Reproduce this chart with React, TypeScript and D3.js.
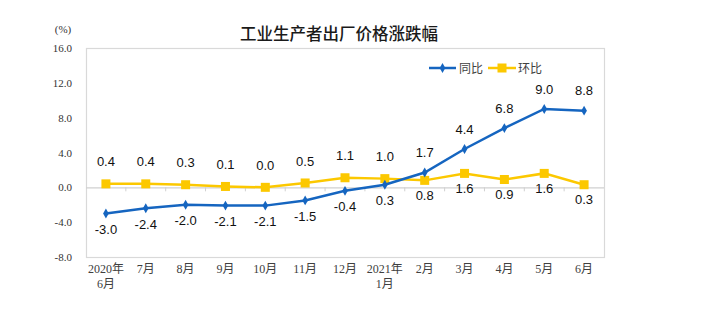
import React from "react";
import * as d3 from "d3";

const categories: string[][] = [
  ["2020年", "6月"], ["7月"], ["8月"], ["9月"], ["10月"], ["11月"], ["12月"],
  ["2021年", "1月"], ["2月"], ["3月"], ["4月"], ["5月"], ["6月"],
];
const yoy = [-3.0, -2.4, -2.0, -2.1, -2.1, -1.5, -0.4, 0.3, 1.7, 4.4, 6.8, 9.0, 8.8];
const mom = [0.4, 0.4, 0.3, 0.1, 0.0, 0.5, 1.1, 1.0, 0.8, 1.6, 0.9, 1.6, 0.3];
const yTicks = [-8, -4, 0, 4, 8, 12, 16];
const title = "工业生产者出厂价格涨跌幅";
const seriesNames = ["同比", "环比"];

const W = 706, H = 326;
const left = 86, right = 604, top = 48, bottom = 257;
const BLUE = "#1565c0";
const YELLOW = "#fcc800";
const SERIF = "'Liberation Serif', 'Times New Roman', 'Noto Sans CJK SC', serif";
const SANS = "'Liberation Sans', Arial, sans-serif";
const CJK = "'Noto Sans CJK SC', sans-serif";

export default function App() {
  const idx = categories.map((_, i) => String(i));
  const x = d3.scaleBand<string>().domain(idx).range([left, right]);
  const y = d3.scaleLinear().domain([-8, 16]).range([bottom, top]);
  const cx = (i: number) => (x(String(i)) as number) + x.bandwidth() / 2;
  const line = d3.line<number>().x((_, i) => cx(i)).y((d) => y(d));
  const diamond = d3.symbol().type(d3.symbolDiamond).size(28)() as string;

  return (
    <div style={{ margin: -8 }}>
      <svg width={W} height={H} style={{ display: "block", background: "#fff" }}>
        <rect x={0} y={0} width={W} height={H} fill="#fff" />
        <text x={339} y={40} textAnchor="middle" fontFamily={CJK} fontSize={16.5} fontWeight={500} fill="#1a1a1a">
          {title}
        </text>
        <text x={63} y={33} textAnchor="middle" fontFamily={SERIF} fontSize={11} fill="#333">(%)</text>
        <rect x={left + 0.5} y={top + 0.5} width={right - left} height={bottom - top} fill="none" stroke="#d9d9d9" strokeWidth={1.2} />
        {yTicks.map((t) => (
          <g key={t}>
            <text x={72} y={y(t) + 4} textAnchor="end" fontFamily={SERIF} fontSize={11} fill="#333">
              {t.toFixed(1)}
            </text>
          </g>
        ))}
        <line x1={left} x2={right} y1={y(0) + 0.5} y2={y(0) + 0.5} stroke="#d0d0d0" strokeWidth={1.2} />
        {idx.slice(1).map((d) => (
          <line key={d} x1={x(d)} x2={x(d)} y1={y(0)} y2={y(0) + 4} stroke="#d0d0d0" strokeWidth={1} />
        ))}
        {categories.map((c, i) =>
          c.map((s, j) => (
            <text key={i + "-" + j} x={cx(i)} y={273 + j * 15} textAnchor="middle" fontFamily={SERIF} fontSize={12} fill="#404040">
              {s}
            </text>
          ))
        )}
        <path d={line(mom) as string} fill="none" stroke={YELLOW} strokeWidth={2.5} />
        {mom.map((v, i) => (
          <rect key={i} x={cx(i) - 4.5} y={y(v) - 4.5} width={9} height={9} fill={YELLOW} />
        ))}
        <path d={line(yoy) as string} fill="none" stroke={BLUE} strokeWidth={2.5} />
        {yoy.map((v, i) => (
          <path key={i} d={diamond} transform={`translate(${cx(i)},${y(v)})`} fill={BLUE} />
        ))}
        {yoy.map((v, i) => {
          const above = i > 7;
          return (
            <text key={i} x={cx(i)} y={y(v) + (above ? -20 : 16)} dy="0.35em" textAnchor="middle" fontFamily={SANS} fontSize={13} fill="#111">
              {v.toFixed(1)}
            </text>
          );
        })}
        {mom.map((v, i) => {
          const above = i <= 7;
          return (
            <text key={i} x={cx(i)} y={y(v) + (above ? -22 : 15)} dy="0.35em" textAnchor="middle" fontFamily={SANS} fontSize={13} fill="#111">
              {v.toFixed(1)}
            </text>
          );
        })}
        <g>
          <line x1={429} x2={456} y1={68} y2={68} stroke={BLUE} strokeWidth={2.5} />
          <path d={diamond} transform="translate(442.5,68)" fill={BLUE} />
          <text x={459} y={72.5} fontFamily={CJK} fontSize={12} fill="#404040">{seriesNames[0]}</text>
          <line x1={488} x2={516} y1={68} y2={68} stroke={YELLOW} strokeWidth={2.5} />
          <rect x={497.5} y={63.5} width={9} height={9} fill={YELLOW} />
          <text x={518} y={72.5} fontFamily={CJK} fontSize={12} fill="#404040">{seriesNames[1]}</text>
        </g>
      </svg>
    </div>
  );
}
